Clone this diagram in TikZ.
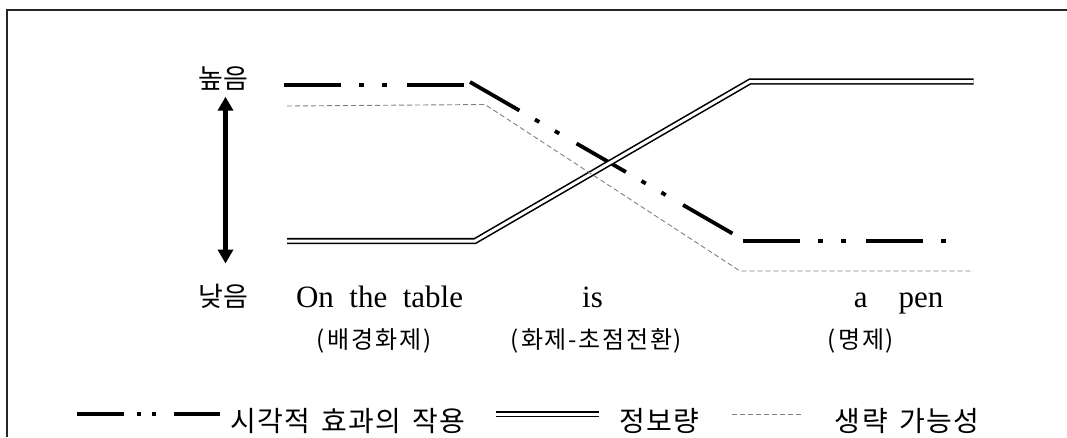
\documentclass[tikz,border=0pt]{standalone}
\usepackage{fontspec}
\setmainfont{Liberation Serif}
\newfontfamily\kr{Noto Sans CJK KR}
\newfontfamily\krl{Noto Sans CJK KR}[LetterSpace=5]
\newfontfamily\krp{Noto Sans CJK KR}[LetterSpace=7]
\usetikzlibrary{arrows.meta}
\begin{document}
\begin{tikzpicture}[x=1pt,y=-1pt,
  visual/.style={line width=3.8pt, dash pattern=on 57pt off 18pt on 5pt off 18pt on 5pt off 20pt},
  visleg/.style={line width=3.8pt, dash pattern=on 47pt off 13pt on 4pt off 11pt on 4pt off 18pt},
  info/.style={double, line width=1.6pt, double distance=3pt},
  omit/.style={line width=0.9pt, gray, dash pattern=on 5pt off 3pt},
  kor/.style={font=\kr\fontsize{27}{30}\selectfont, inner sep=0pt, anchor=base},
  korleg/.style={font=\krl\fontsize{28}{30}\selectfont, inner sep=0pt, anchor=base},
  korsm/.style={font=\krp\fontsize{24}{26}\selectfont, inner sep=0pt, anchor=base},
  eng/.style={font=\fontsize{31}{34}\selectfont, inner sep=0pt, anchor=base},
  frame/.style={line width=1.3pt, black!85}]
\useasboundingbox (0,0) rectangle (1067,437);
% frame
\coordinate (fTR) at (1067,10);
\coordinate (fTL) at (7,10);
\coordinate (fBL) at (7,437);
\draw[frame] (fTR) -- (fTL) -- (fBL);
% axis labels
\node[kor] (hi) at (223,88) {높음};
\node[kor] (lo) at (223,306) {낮음};
\coordinate (aTop) at (225.5,96.7);
\coordinate (aBot) at (225.5,263.5);
\draw[line width=5.5pt, {Triangle[width=15pt,length=14pt]}-{Triangle[width=15pt,length=14pt]}] (aBot) -- (aTop);
% words
\node[eng] (w1) at (379.5,307) {On\hspace{0.5em}the\hspace{0.5em}table};
\node[eng] (w2) at (592.5,307) {is};
\node[eng] (w3) at (898.5,307) {a\hspace{1em}pen};
\node[korsm] (p1) at (374,348) {(\hspace{3pt}배경화제)};
\node[korsm] (p2) at (596,348) {(\hspace{3pt}화제-초점전환)};
\node[korsm] (p3) at (860.5,348) {(\hspace{3pt}명제)};
% visual effect line
\coordinate (v1) at (284,85);
\coordinate (v2) at (464,85);
\coordinate (v3) at (470,82);
\coordinate (v4) at (742,239);
\coordinate (v5) at (743,241);
\coordinate (v6) at (948,241);
\draw[visual] (v1) -- (v2);
\draw[visual] (v3) -- (v4);
\draw[visual] (v5) -- (v6);
% information line
\coordinate (i1) at (287,241);
\coordinate (i2) at (475,241);
\coordinate (i3) at (750,81.5);
\coordinate (i4) at (973.5,81.5);
\draw[info] (i1) -- (i2) -- (i3) -- (i4);
% omission line
\coordinate (o1) at (287,106);
\coordinate (o2) at (485,104.5);
\coordinate (o3) at (740,271);
\coordinate (o4) at (973.5,271);
\draw[omit] (o1) -- (o2) -- (o3) -- (o4);
% legend
\coordinate (l1a) at (77,414);
\coordinate (l1b) at (220,414);
\draw[visleg] (l1a) -- (l1b);
\node[korleg] (t1) at (348,431) {시각적\hspace{0.4em}효과의\hspace{0.4em}작용};
\coordinate (l2a) at (496,414);
\coordinate (l2b) at (598.5,414);
\draw[info] (l2a) -- (l2b);
\node[korleg] (t2) at (659.5,431) {정보량};
\coordinate (l3a) at (732,414);
\coordinate (l3b) at (802,414);
\draw[omit] (l3a) -- (l3b);
\node[korleg] (t3) at (907,431) {생략\hspace{0.4em}가능성};
\end{tikzpicture}
\end{document}
